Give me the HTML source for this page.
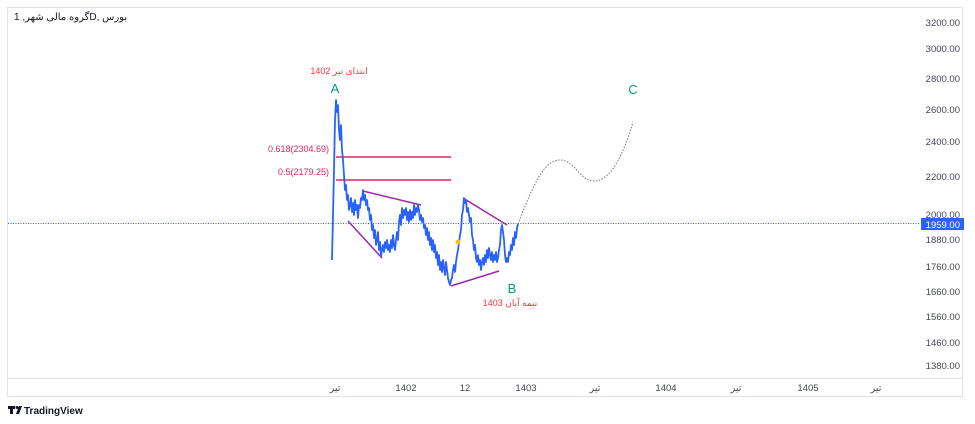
<!DOCTYPE html>
<html><head><meta charset="utf-8"><style>
body{margin:0;background:#fff;width:975px;height:424px;overflow:hidden;font-family:"Liberation Sans","Noto Sans CJK SC",sans-serif}
#t{position:absolute;left:14px;top:12px;font-size:10px;color:#131722;direction:ltr;white-space:nowrap;z-index:2}
#t span{display:inline-block;white-space:pre}
</style></head><body>
<div id="t"><span>1 ,</span><span>شهر</span><span> </span><span>مالی</span><span> </span><span>گروه</span><span>D, </span><span>بورس</span></div>
<svg width="975" height="424" xmlns="http://www.w3.org/2000/svg" style="position:absolute;left:0;top:0">
<rect x="7.5" y="7.5" width="955" height="389" fill="#fff" stroke="#e0e3eb"/>
<line x1="7" y1="378.5" x2="962" y2="378.5" stroke="#e0e3eb"/>
<g font-size="9.5" fill="#434651" text-anchor="end" font-family="Liberation Sans,sans-serif">
<text x="960" y="26">3200.00</text><text x="960" y="52">3000.00</text><text x="960" y="82">2800.00</text>
<text x="960" y="113">2600.00</text><text x="960" y="145">2400.00</text><text x="960" y="180">2200.00</text>
<text x="960" y="218">2000.00</text><text x="960" y="243">1880.00</text><text x="960" y="270">1760.00</text>
<text x="960" y="295">1660.00</text><text x="960" y="320">1560.00</text><text x="960" y="346">1460.00</text>
<text x="960" y="369">1380.00</text>
</g>
<line x1="8" y1="223.5" x2="920" y2="223.5" stroke="#2962ff" stroke-width="1" stroke-dasharray="1 1.5"/>
<rect x="921" y="218" width="43" height="12" fill="#2962ff"/>
<text x="960" y="228" font-size="9.5" fill="#fff" text-anchor="end">1959.00</text>
<g font-size="9.5" fill="#434651" text-anchor="middle" font-family="Liberation Sans,Noto Sans CJK SC,sans-serif">
<text x="335" y="391">تیر</text><text x="406" y="391">1402</text><text x="465" y="391">12</text>
<text x="526" y="391">1403</text><text x="595" y="391">تیر</text><text x="666" y="391">1404</text>
<text x="736" y="391">تیر</text><text x="808" y="391">1405</text><text x="876" y="391">تیر</text>
</g>
<line x1="336" y1="157" x2="451" y2="157" stroke="#e91e63" stroke-width="1.5"/>
<line x1="336" y1="180" x2="451" y2="180" stroke="#e91e63" stroke-width="1.5"/>
<text x="329" y="152" font-size="9" fill="#e91e63" text-anchor="end">0.618(2304.69)</text>
<text x="329" y="175" font-size="9" fill="#e91e63" text-anchor="end">0.5(2179.25)</text>
<g stroke="#9c27b0" stroke-width="1.5">
<line x1="363" y1="191" x2="421" y2="205"/><line x1="348" y1="221" x2="382" y2="258"/>
<line x1="451" y1="286" x2="499" y2="271"/><line x1="463" y1="198" x2="507" y2="225"/>
</g>
<path d="M518,224 C535,180 545,160 560,160 C575,160 580,182 595,181 C612,180 625,150 633,122" fill="none" stroke="#777" stroke-width="1" stroke-dasharray="1.5 1.5"/>
<polyline fill="none" stroke="#2962ff" stroke-width="1.8" stroke-linejoin="round" points="332,260 333,215 334,170 335,120 336,100 337,112 338,105 339,130 340,140 341,125 342,150 343,160 344,175 345,190 346,185 347,200 348,195 349,210 350,205 351,198 352,212 353,203 354,215 355,200 356,210 357,205 358,218 359,205 360,208 361,198 362,200 363,190 364,200 365,195 366,205 367,200 368,210 369,208 370,220 371,215 372,230 373,225 374,238 375,230 376,245 377,240 378,232 379,250 380,242 381,256 382,250 383,245 384,252 385,242 386,248 387,240 388,250 389,245 390,252 391,240 392,248 393,235 394,245 395,250 396,240 397,232 398,240 399,222 400,215 401,225 402,208 403,218 404,210 405,215 406,208 407,220 408,212 409,222 410,210 411,220 412,212 413,218 414,205 415,215 416,208 417,212 418,205 419,210 420,220 421,215 422,222 423,218 424,228 425,225 426,235 427,228 428,240 429,232 430,245 431,238 432,250 433,240 434,252 435,245 436,258 437,252 438,265 439,255 440,270 441,262 442,272 443,260 444,268 445,275 446,262 447,270 448,278 449,282 450,285 451,280 452,278 453,270 454,265 455,272 456,262 457,255 458,250 459,242 460,235 461,230 462,215 463,210 464,198 465,203 466,200 467,212 468,208 469,215 470,222 471,218 472,235 473,240 474,250 475,245 476,258 477,262 478,255 479,265 480,260 481,270 482,262 483,258 484,265 485,255 486,262 487,250 488,258 489,248 490,255 491,260 492,252 493,262 494,255 495,260 496,252 497,262 498,258 499,250 500,245 501,230 502,225 503,232 504,240 505,255 506,262 507,258 508,262 509,252 510,255 511,245 512,250 513,238 514,245 515,232 516,238 517,228 518,224"/>
<circle cx="458" cy="242" r="2.5" fill="#f5c518"/>
<text x="339" y="74" font-size="9" fill="#f23645" text-anchor="middle" font-family="Liberation Sans,Noto Sans CJK SC,sans-serif">ابتدای تیر 1402</text>
<text x="335" y="93" font-size="13" fill="#089981" text-anchor="middle">A</text>
<text x="512" y="293" font-size="13" fill="#089981" text-anchor="middle">B</text>
<text x="510" y="306" font-size="9" fill="#f23645" text-anchor="middle" font-family="Liberation Sans,Noto Sans CJK SC,sans-serif">نیمه آبان 1403</text>
<text x="633" y="94" font-size="13" fill="#089981" text-anchor="middle">C</text>
<g fill="#131722"><path d="M8,406 h7 v3 h-2 v5 h-3 v-5 h-2z"/><circle cx="17" cy="407.5" r="1.5"/><path d="M19,406 h3 l-3,8 h-3z"/></g>
<text x="24" y="414" font-size="10" font-weight="bold" fill="#131722">TradingView</text>
</svg>
</body></html>
